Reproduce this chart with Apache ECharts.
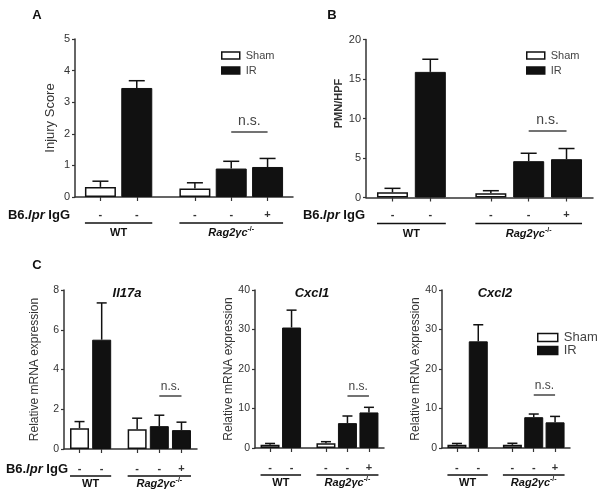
<!DOCTYPE html>
<html><head><meta charset="utf-8">
<script src="https://cdn.jsdelivr.net/npm/echarts@6/dist/echarts.min.js"></script>
<style>html,body{margin:0;padding:0;background:#fff}#c{width:601px;height:498px}</style>
</head><body><div id="c"></div>
<script>
// ---------- data ----------
const barLabels = ['-', '-', '-', '-', '+'];          // B6.lpr IgG
const barGroups = ['WT', 'WT', 'Rag', 'Rag', 'Rag'];
const barTreatment = ['Sham', 'IR', 'Sham', 'IR', 'IR'];
const groupKeys = ['WT', 'Rag'];
const legendNames = ['Sham', 'IR'];

const injuryMean = [0.32, 3.45, 0.27, 0.90, 0.95];
const injuryErr  = [0.18, 0.23, 0.18, 0.23, 0.27];
const injuryTicks = [0, 1, 2, 3, 4, 5];

const pmnMean = [0.66, 15.9, 0.53, 4.6, 4.85];
const pmnErr  = [0.50, 1.6, 0.33, 1.0, 1.35];
const pmnTicks = [0, 5, 10, 15, 20];

const il17aMean = [1.05, 5.5, 1.0, 1.15, 0.95];
const il17aErr  = [0.33, 1.85, 0.55, 0.55, 0.40];
const il17aTicks = [0, 2, 4, 6, 8];

const cxcl1Mean = [0.8, 30.5, 1.2, 6.3, 9.0];
const cxcl1Err  = [0.35, 4.4, 0.4, 1.8, 1.3];
const cxcl1Ticks = [0, 10, 20, 30, 40];

const cxcl2Mean = [0.8, 27.0, 0.8, 7.8, 6.5];
const cxcl2Err  = [0.35, 4.2, 0.4, 0.8, 1.5];
const cxcl2Ticks = [0, 10, 20, 30, 40];

// ---------- layout ----------
const FONT = "'Liberation Sans', Arial, Helvetica, sans-serif";
const INK = '#111';
const SLOTS = 30, LEAD = 3, STEP = 5, GROUP_GAP = 3;
function slotsFor(groups) {
  const s = []; let pos = LEAD;
  groups.forEach((g, i) => { if (i > 0) { pos += STEP; if (g !== groups[i - 1]) pos += GROUP_GAP; } s.push(pos); });
  return s;
}
const barSlots = slotsFor(barGroups);
const slotNames = Array.from({ length: SLOTS }, (_, i) => 's' + i);
const labelAt = {}; barSlots.forEach((s, i) => { labelAt[s] = barLabels[i]; });

const panels = [
  { mean: injuryMean, err: injuryErr, ticks: injuryTicks, yName: 'Injury Score', ns: 2.07,
    grid: { left: 75, top: 39, width: 218, height: 158 }, bw: 31, cap: 8, nameGap: 18, nameSize: 13,
    labelMargin: 12, nsSize: 14, lineOff: 26, textOff: 36, tickSize: 11 },
  { mean: pmnMean, err: pmnErr, ticks: pmnTicks, yName: 'PMN/HPF', ns: 8.5, namePad: [0, 0, 0, 30],
    grid: { left: 366, top: 39.5, width: 227, height: 158 }, bw: 31, cap: 8, nameGap: 9, nameSize: 11, nameBold: true,
    labelMargin: 12, nsSize: 14, lineOff: 26, textOff: 36, tickSize: 11 },
  { mean: il17aMean, err: il17aErr, ticks: il17aTicks, yName: 'Relative mRNA expression', ns: 2.7,
    grid: { left: 64, top: 290, width: 133, height: 159 }, bw: 19, cap: 5, nameGap: 23, nameSize: 12,
    labelMargin: 14, nsSize: 12, lineOff: 27, textOff: 35, tickSize: 10.5 },
  { mean: cxcl1Mean, err: cxcl1Err, ticks: cxcl1Ticks, yName: 'Relative mRNA expression', ns: 13.3,
    grid: { left: 255, top: 290, width: 129, height: 158 }, bw: 19, cap: 5, nameGap: 17, nameSize: 12,
    labelMargin: 14, nsSize: 12, lineOff: 27, textOff: 35, tickSize: 10.5 },
  { mean: cxcl2Mean, err: cxcl2Err, ticks: cxcl2Ticks, yName: 'Relative mRNA expression', ns: 13.5,
    grid: { left: 442, top: 290, width: 128, height: 158 }, bw: 19, cap: 5, nameGap: 19, nameSize: 12,
    labelMargin: 14, nsSize: 12, lineOff: 27, textOff: 35, tickSize: 10.5 }
];

function renderErr(cap) {
  return function (params, api) {
    const x = api.value(0);
    const b = api.coord([x, api.value(1)]);
    const t = api.coord([x, api.value(2)]);
    const st = { stroke: INK, lineWidth: 1.5 };
    return { type: 'group', children: [
      { type: 'line', shape: { x1: b[0], y1: b[1], x2: t[0], y2: t[1] }, style: st },
      { type: 'line', shape: { x1: t[0] - cap, y1: t[1], x2: t[0] + cap, y2: t[1] }, style: st }
    ] };
  };
}

const grids = [], xAxes = [], yAxes = [], series = [];
panels.forEach((p, i) => {
  grids.push(Object.assign({ containLabel: false }, p.grid));
  const isBar = (idx) => labelAt[idx] !== undefined;
  xAxes.push({
    type: 'category', gridIndex: i, data: slotNames, boundaryGap: true,
    axisLine: { lineStyle: { color: '#333', width: 1.5 } },
    axisTick: { show: true, alignWithLabel: true, interval: isBar, length: 4, lineStyle: { color: '#333', width: 1.2 } },
    axisLabel: { interval: isBar, formatter: (v, idx) => labelAt[idx] || '', margin: p.labelMargin,
      fontSize: 11, fontWeight: 'bold', color: '#333', fontFamily: FONT },
    splitLine: { show: false }
  });
  const t = p.ticks;
  yAxes.push({
    type: 'value', gridIndex: i, min: t[0], max: t[t.length - 1], interval: t[1] - t[0],
    name: p.yName, nameLocation: 'middle', nameGap: p.nameGap,
    nameTextStyle: { fontSize: p.nameSize, color: '#333', fontFamily: FONT, fontWeight: p.nameBold ? 'bold' : 'normal',
      padding: p.namePad || 0 },
    axisLine: { show: true, lineStyle: { color: '#333', width: 1.5 } },
    axisTick: { show: true, length: 3, lineStyle: { color: '#333', width: 1.2 } },
    axisLabel: { fontSize: p.tickSize, color: '#333', margin: 5, fontFamily: FONT },
    splitLine: { show: false }
  });
  const shamData = Array(SLOTS).fill(null), irData = Array(SLOTS).fill(null);
  barSlots.forEach((s, k) => { (barTreatment[k] === 'Sham' ? shamData : irData)[s] = p.mean[k]; });
  const irIdx = barTreatment.map((t, k) => t === 'IR' && barGroups[k] === 'Rag' ? k : -1).filter(k => k >= 0);
  series.push({
    type: 'bar', name: 'Sham', xAxisIndex: i, yAxisIndex: i, barWidth: p.bw, barGap: '-100%',
    data: shamData, itemStyle: { color: '#fff', borderColor: INK, borderWidth: 1.5 }, animation: false, silent: true
  });
  series.push({
    type: 'bar', name: 'IR', xAxisIndex: i, yAxisIndex: i, barWidth: p.bw, barGap: '-100%',
    data: irData, itemStyle: { color: INK, borderColor: INK, borderWidth: 1 }, animation: false, silent: true,
    markLine: {
      silent: true, symbol: ['none', 'none'], animation: false,
      lineStyle: { color: '#444', width: 1.5, type: 'solid' },
      label: { show: true, formatter: 'n.s.', position: 'insideMiddleTop', distance: 3,
        fontSize: p.nsSize, color: '#444', fontFamily: FONT },
      data: [[{ coord: [barSlots[irIdx[0]], p.ns] }, { coord: [barSlots[irIdx[irIdx.length - 1]], p.ns] }]]
    }
  });
  series.push({
    type: 'custom', xAxisIndex: i, yAxisIndex: i, z: 5, animation: false, silent: true,
    encode: { x: 0, y: [1, 2] },
    data: barSlots.map((s, k) => [s, p.mean[k], p.mean[k] + p.err[k]]),
    renderItem: renderErr(p.cap)
  });
});

const legendCommon = {
  orient: 'vertical', icon: 'rect', data: legendNames, selectedMode: false,
  itemStyle: { borderWidth: 1.5 }
};

const chart = echarts.init(document.getElementById('c'));
chart.setOption({
  animation: false,
  backgroundColor: '#fff',
  textStyle: { fontFamily: FONT },
  grid: grids, xAxis: xAxes, yAxis: yAxes, series: series,
  legend: [
    Object.assign({ left: 216, top: 45, itemWidth: 18, itemHeight: 7, itemGap: 4,
      textStyle: { fontSize: 11, color: '#444', fontFamily: FONT, padding: [0, 0, 0, 1] } }, legendCommon),
    Object.assign({ left: 521, top: 45, itemWidth: 18, itemHeight: 7, itemGap: 4,
      textStyle: { fontSize: 11, color: '#444', fontFamily: FONT, padding: [0, 0, 0, 1] } }, legendCommon),
    Object.assign({ left: 532, top: 326, itemWidth: 20, itemHeight: 8, itemGap: 0,
      textStyle: { fontSize: 13, color: '#444', fontFamily: FONT, padding: [0, 0, 0, 1] } }, legendCommon)
  ]
});

// ---------- annotations (titles, group underlines) ----------
const g = [];
function txt(x, y, text, opt) {
  g.push({ type: 'text', x: x, y: y, silent: true, style: Object.assign({
    text: text, fontFamily: FONT, fill: INK, align: 'center', verticalAlign: 'middle', fontSize: 12, fontWeight: 'bold'
  }, opt || {}) });
}
txt(37, 15, 'A', { fontSize: 13 });
txt(332, 15, 'B', { fontSize: 13 });
txt(37, 265, 'C', { fontSize: 13 });
txt(127, 293, 'Il17a', { fontSize: 13, fontStyle: 'italic' });
txt(312, 293, 'Cxcl1', { fontSize: 13, fontStyle: 'italic' });
txt(495, 293, 'Cxcl2', { fontSize: 13, fontStyle: 'italic' });

const lprRich = {
  a: { fontSize: 13, fontWeight: 'bold', fontFamily: FONT, fill: INK },
  b: { fontSize: 13, fontWeight: 'bold', fontStyle: 'italic', fontFamily: FONT, fill: INK }
};
const lprText = '{a|B6.}{b|lpr}{a| IgG}';
[[0, 70], [1, 365], [2, 68]].forEach(([pi, xr]) => {
  const p = panels[pi];
  const axisY = p.grid.top + p.grid.height;
  txt(xr, axisY + p.labelMargin + 6, lprText, { align: 'right', rich: lprRich });
});

const ragRich = {
  i: { fontSize: 11, fontWeight: 'bold', fontStyle: 'italic', fontFamily: FONT, fill: INK, lineHeight: 14 },
  s: { fontSize: 7, fontWeight: 'bold', fontFamily: FONT, fill: INK, lineHeight: 8, verticalAlign: 'top' }
};
panels.forEach((p, i) => {
  const axisY = p.grid.top + p.grid.height;
  groupKeys.forEach(gk => {
    const ks = barGroups.map((b, k) => b === gk ? k : -1).filter(k => k >= 0);
    const x1 = chart.convertToPixel({ xAxisIndex: i }, barSlots[ks[0]]) - p.bw / 2;
    const x2 = chart.convertToPixel({ xAxisIndex: i }, barSlots[ks[ks.length - 1]]) + p.bw / 2;
    g.push({ type: 'line', silent: true, shape: { x1: x1, y1: axisY + p.lineOff, x2: x2, y2: axisY + p.lineOff },
      style: { stroke: INK, lineWidth: 1.5 } });
    if (gk === 'WT') txt((x1 + x2) / 2, axisY + p.textOff, 'WT', { fontSize: 11 });
    else txt((x1 + x2) / 2, axisY + p.textOff, '{i|Rag2γc}{s|-/-}', { fontSize: 11, rich: ragRich });
  });
});
chart.setOption({ graphic: g });
</script></body></html>
